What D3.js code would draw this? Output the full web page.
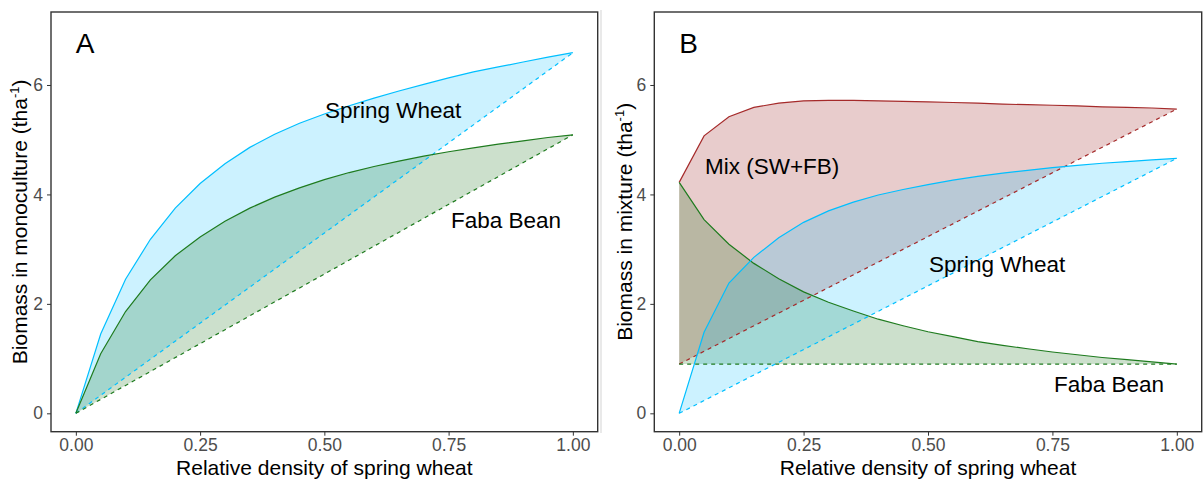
<!DOCTYPE html>
<html>
<head>
<meta charset="utf-8">
<script src="https://cdn.jsdelivr.net/npm/d3@7"></script>
<style>
body { margin: 0; background: #fff; }
text { font-family: "Liberation Sans", Arial, sans-serif; }
</style>
</head>
<body>
<svg id="chart" width="1203" height="482"></svg>
<script>

// relative density of spring wheat, shared by every curve
var density = [0, 0.05, 0.1, 0.15, 0.2, 0.25, 0.3, 0.35, 0.4, 0.45, 0.5,
               0.55, 0.6, 0.65, 0.7, 0.75, 0.8, 0.85, 0.9, 0.95, 1];

// panel A : biomass in monoculture
var swMono = [0, 1.45, 2.45, 3.18, 3.75, 4.2, 4.56, 4.86, 5.1, 5.3, 5.47,
              5.62, 5.76, 5.89, 6.01, 6.13, 6.24, 6.33, 6.42, 6.51, 6.59];
var fbMono = [0, 1.09, 1.86, 2.44, 2.88, 3.22, 3.51, 3.75, 3.95, 4.12, 4.27,
              4.4, 4.51, 4.61, 4.7, 4.78, 4.85, 4.92, 4.98, 5.04, 5.09];

// panel B : biomass in mixture
var mixTotal = [4.22, 5.07, 5.42, 5.59, 5.67, 5.71, 5.72, 5.72, 5.71, 5.7, 5.69,
                5.68, 5.67, 5.65, 5.64, 5.63, 5.62, 5.6, 5.59, 5.58, 5.56];
var swMix = [0, 1.48, 2.38, 2.85, 3.21, 3.49, 3.7, 3.86, 3.99, 4.09, 4.18,
             4.26, 4.33, 4.39, 4.44, 4.49, 4.53, 4.57, 4.6, 4.63, 4.66];
var fbMix = [4.22, 3.54, 3.09, 2.74, 2.46, 2.22, 2.03, 1.87, 1.72, 1.6, 1.49,
             1.4, 1.31, 1.24, 1.18, 1.12, 1.07, 1.02, 0.98, 0.94, 0.9];

// dashed reference lines : value at density 0 and at density 1
var refX = [0, 1];
var swMonoRef = [0, 6.59];
var fbMonoRef = [0, 5.09];
var mixRef = [0.9, 5.56];
var swMixRef = [0, 4.66];
var fbMixRef = [0.9, 0.9];

var xTicks = [0, 0.25, 0.5, 0.75, 1];
var yTicks = [0, 2, 4, 6];

var svg = d3.select("#chart");

// thin grey divider between the two figures
svg.append("line")
  .attr("x1", 601).attr("x2", 601)
  .attr("y1", 10).attr("y2", 433)
  .attr("stroke", "#e2e2e2").attr("stroke-width", 1.5);

function drawPanel(p) {
  var x = d3.scaleLinear().domain([-0.05, 1.05]).range([p.left, p.right]);
  var y = d3.scaleLinear().domain([-0.336, 7.334]).range([p.bottom, p.top]);
  var g = svg.append("g");
  var line = d3.line().x(function(d) { return d[0]; }).y(function(d) { return d[1]; });

  // shaded areas between curve and dashed line
  p.series.forEach(function(s) {
    var pts = density.map(function(d, i) { return [x(d), y(s.values[i])]; });
    pts.push([x(refX[1]), y(s.ref[1])]);
    pts.push([x(refX[0]), y(s.ref[0])]);
    g.append("path")
      .attr("d", line(pts) + "Z")
      .attr("fill", s.color)
      .attr("fill-opacity", 0.2)
      .attr("stroke", "none");
  });

  // dashed lines then solid curves
  p.series.forEach(function(s) {
    g.append("path")
      .attr("d", line(refX.map(function(d, i) { return [x(d), y(s.ref[i])]; })))
      .attr("fill", "none")
      .attr("stroke", s.line)
      .attr("stroke-width", 1.2)
      .attr("stroke-dasharray", "4,4");
    g.append("path")
      .attr("d", line(density.map(function(d, i) { return [x(d), y(s.values[i])]; })))
      .attr("fill", "none")
      .attr("stroke", s.line)
      .attr("stroke-width", 1.2);
  });

  // panel border
  g.append("rect")
    .attr("x", p.left).attr("y", p.top)
    .attr("width", p.right - p.left).attr("height", p.bottom - p.top)
    .attr("fill", "none").attr("stroke", "#333").attr("stroke-width", 1.4);

  // axes
  var ax = g.append("g")
    .attr("transform", "translate(0," + p.bottom + ")")
    .call(d3.axisBottom(x).tickValues(xTicks).tickFormat(d3.format(".2f")).tickSize(4).tickPadding(3));
  var ay = g.append("g")
    .attr("transform", "translate(" + p.left + ",0)")
    .call(d3.axisLeft(y).tickValues(yTicks).tickFormat(d3.format("d")).tickSize(4).tickPadding(4));
  [ax, ay].forEach(function(a) {
    a.select(".domain").remove();
    a.selectAll(".tick line").attr("stroke", "#333");
    a.selectAll(".tick text")
      .attr("fill", "#4d4d4d")
      .style("font-size", "17.5px")
      .style("font-family", "'Liberation Sans', Arial, sans-serif");
  });

  // axis titles
  g.append("text")
    .attr("x", (p.left + p.right) / 2).attr("y", 475)
    .attr("text-anchor", "middle")
    .style("font-size", "21px")
    .text("Relative density of spring wheat");
  var yt = g.append("text")
    .attr("transform", "translate(" + p.ytitleX + "," + ((p.top + p.bottom) / 2) + ") rotate(-90)")
    .attr("text-anchor", "middle")
    .style("font-size", "21px");
  yt.append("tspan").text(p.ytitle + " (tha");
  yt.append("tspan").attr("dy", -8).style("font-size", "13px").text("-1");
  yt.append("tspan").attr("dy", 8).text(")");

  // panel letter
  g.append("text")
    .attr("x", x(0)).attr("y", 53)
    .style("font-size", "28px")
    .text(p.letter);

  // curve labels
  p.labels.forEach(function(l) {
    g.append("text")
      .attr("x", l.x).attr("y", l.y)
      .style("font-size", "22.5px")
      .text(l.text);
  });
}

drawPanel({
  left: 51, right: 597.7, top: 12, bottom: 431.7, ytitleX: 27,
  letter: "A", ytitle: "Biomass in monoculture",
  series: [
    {values: swMono, ref: swMonoRef, color: "#00bfff", line: "#00bfff"},
    {values: fbMono, ref: fbMonoRef, color: "#006400", line: "#1e7b1e"}
  ],
  labels: [
    {text: "Spring Wheat", x: 325, y: 118},
    {text: "Faba Bean", x: 451, y: 228}
  ]
});

drawPanel({
  left: 654.3, right: 1201.7, top: 12, bottom: 431.7, ytitleX: 632,
  letter: "B", ytitle: "Biomass in mixture",
  series: [
    {values: mixTotal, ref: mixRef, color: "#8b0000", line: "#a52a2a"},
    {values: fbMix, ref: fbMixRef, color: "#006400", line: "#1e7b1e"},
    {values: swMix, ref: swMixRef, color: "#00bfff", line: "#00bfff"}
  ],
  labels: [
    {text: "Mix (SW+FB)", x: 705, y: 174},
    {text: "Spring Wheat", x: 929, y: 272},
    {text: "Faba Bean", x: 1054, y: 392}
  ]
});

</script>
</body>
</html>
